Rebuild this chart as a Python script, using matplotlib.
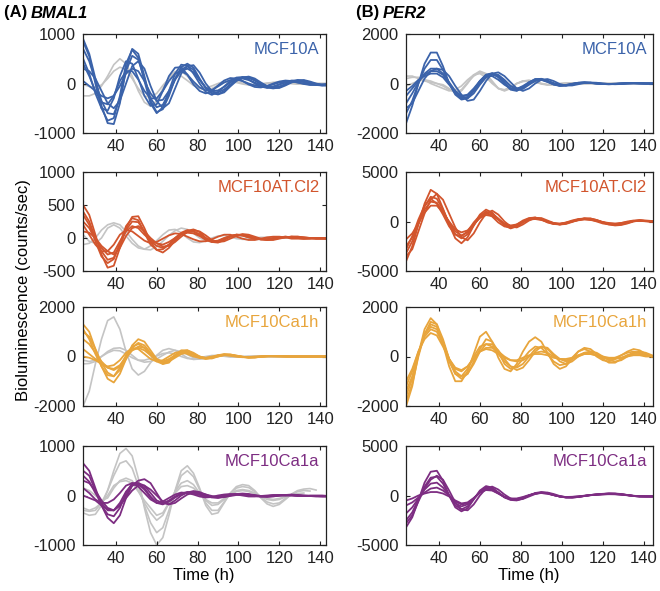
import numpy as np
import matplotlib
matplotlib.use('Agg')
import matplotlib.pyplot as plt

plt.rcParams['font.family'] = ['Liberation Sans', 'DejaVu Sans']
plt.rcParams['axes.unicode_minus'] = False

nan = np.nan

# sampling times (h)
time_h = [24, 27, 30, 33, 36, 39, 42, 45, 48, 51,
          54, 57, 60, 63, 66, 69, 72, 75, 78, 81,
          84, 87, 90, 93, 96, 99, 102, 105, 108, 111,
          114, 117, 120, 123, 126, 129, 132, 135, 138, 141, 144]

# ---------------- (A) BMAL1 ----------------
bmal1_mcf10a = [
    [900, 600, 100, -450, -800, -820, -400, 300, 700, 600,
     150, -350, -580, -520, -250, 100, 330, 400, 320, 100,
     -100, -200, -220, -150, -30, 70, 130, 130, 70, -20,
     -80, -100, -80, -20, 40, 70, 60, 20, -20, -40, -40],
    [700, 450, 50, -350, -600, -620, -300, 250, 560, 480,
     100, -300, -480, -430, -200, 80, 280, 350, 280, 80,
     -80, -170, -180, -120, -20, 60, 110, 110, 60, -10,
     -60, -80, -60, -10, 30, 60, 50, 20, -10, -30, -30],
    [500, 200, -200, -500, -550, -300, 150, 450, 400, 100,
     -250, -450, -420, -150, 150, 320, 330, 180, -20, -150,
     -200, -150, -40, 60, 110, 100, 50, -20, -70, -80,
     -50, 0, 40, 60, 50, 20, -10, -30, -30, -20, -10],
    [300, 250, 100, -150, -400, -500, -350, 0, 350, 450,
     300, -50, -350, -500, -400, -100, 200, 350, 370, 220,
     0, -150, -220, -180, -60, 50, 120, 140, 100, 20,
     -50, -90, -90, -40, 20, 60, 70, 40, 0, -30, -40],
    [50, -50, -150, -250, -300, -250, -50, 200, 300, 250,
     50, -200, -350, -330, -150, 80, 250, 300, 230, 70,
     -80, -150, -140, -70, 20, 80, 100, 70, 20, -40,
     -70, -60, -20, 20, 50, 50, 30, 0, -20, -30, -30],
    [850, 550, 0, -500, -750, -700, -250, 400, 680, 520,
     50, -400, -600, -480, -150, 200, 380, 360, 200, 0,
     -170, -230, -170, -60, 50, 120, 130, 80, 0, -60,
     -90, -70, -20, 30, 60, 60, 30, -10, -30, -40, -30],
    [400, 150, -150, -380, -420, -250, 50, 250, 250, 80,
     -150, -300, -300, -150, 50, 200, 250, 180, 40, -80,
     -140, -130, -60, 20, 70, 80, 50, 0, -40, -60,
     -50, -20, 20, 40, 40, 20, 0, -20, -20, -20, -10],
]
bmal1_mcf10a_grey = [
    [-250, -250, -200, -50, 150, 380, 500, 400, 150, -150,
     -380, -460, -350, -100, 120, 240, 250, 150, 0, -100,
     -130, -100, -40, 20, 50, 40, 10, -20, -30, -20,
     0, 20, 30, 20, 0, -10, -10, 0, 0, 0, 0],
    [-20, -60, -80, -30, 100, 250, 330, 280, 100, -100,
     -250, -280, -200, -40, 100, 170, 150, 60, -40, -90,
     -90, -50, 0, 40, 40, 20, -10, -30, -30, -10,
     10, 20, 20, 10, 0, -10, -10, 0, 0, 0, 0],
]

bmal1_mcf10at = [
    [500, 350, 50, -250, -450, -420, -150, 150, 320, 330,
     150, -60, -180, -220, -150, -40, 60, 110, 130, 90,
     0, -60, -70, -30, 20, 50, 50, 30, 0, -20,
     -30, -20, 0, 10, 20, 20, 10, 0, -10, -10, -10],
    [400, 250, 0, -200, -330, -300, -100, 120, 250, 240,
     100, -50, -120, -150, -100, -20, 50, 90, 100, 60,
     0, -40, -50, -20, 20, 40, 40, 20, 0, -20,
     -20, -10, 0, 10, 20, 10, 0, 0, -10, -10, -10],
    [250, 150, -20, -150, -250, -220, -50, 100, 180, 150,
     50, -30, -80, -100, -60, 0, 60, 80, 70, 30,
     -20, -50, -40, 0, 30, 50, 40, 10, -10, -20,
     -20, 0, 10, 20, 10, 0, -10, -10, 0, 0, -10],
    [200, 50, -100, -200, -200, -100, 50, 120, 100, 30,
     -40, -80, -60, -10, 40, 70, 60, 20, -20, -50,
     -50, -20, 20, 50, 50, 20, -10, -30, -30, -10,
     10, 20, 20, 10, -10, -10, -10, 0, 0, 0, 0],
    [100, 80, 0, -120, -200, -250, -150, 30, 150, 180,
     100, 0, -80, -130, -120, -60, 20, 90, 120, 100,
     40, -30, -60, -50, -10, 30, 60, 50, 20, -10,
     -30, -30, -10, 10, 20, 20, 10, 0, -10, -10, -10],
    [350, 200, -50, -280, -380, -320, -80, 180, 300, 270,
     80, -100, -180, -170, -100, 0, 80, 120, 100, 40,
     -30, -60, -50, -10, 30, 50, 40, 10, -10, -20,
     -20, -10, 10, 20, 10, 0, -10, -10, 0, 0, -10],
]
bmal1_mcf10at_grey = [
    [-100, -80, 0, 120, 200, 230, 200, 100, -20, -120,
     -170, -180, -130, -50, 40, 110, 150, 130, 70, 0,
     -40, -60, -40, 0, 30, 40, 30, 0, -20, -20,
     -10, 0, 10, 10, 0, 0, 0, 0, 0, 0, 0],
    [50, -50, -80, 0, 150, 200, 150, 30, -80, -150,
     -170, -120, -40, 50, 120, 130, 80, 0, -60, -70,
     -40, 0, 30, 40, 20, -10, -20, -20, 0, 10,
     10, 10, 0, 0, 0, 0, 0, 0, 0, 0, 0],
]

bmal1_ca1h = [
    [1300, 1000, 300, -400, -900, -1050, -700, -100, 450, 700,
     600, 250, -100, -300, -250, 50, 250, 250, 100, -50,
     -100, -50, 50, 100, 80, 30, -20, -50, -40, -10,
     10, 20, 20, 10, 0, 0, 0, 0, 0, 0, 0],
    [1000, 800, 300, -250, -650, -800, -550, -100, 350, 550,
     450, 150, -150, -250, -150, 50, 200, 200, 80, -30,
     -80, -50, 30, 80, 60, 20, -20, -40, -30, -10,
     10, 20, 20, 10, 0, 0, 0, 0, 0, 0, 0],
    [700, 500, 150, -200, -450, -550, -400, -50, 250, 400,
     350, 100, -100, -200, -100, 50, 150, 150, 60, -20,
     -60, -30, 30, 60, 50, 20, -10, -30, -20, 0,
     10, 10, 10, 0, 0, 0, 0, 0, 0, 0, 0],
    [300, 100, -100, -300, -400, -350, -150, 150, 350, 300,
     100, -100, -200, -150, 0, 150, 200, 100, 0, -60,
     -50, 0, 50, 60, 30, -10, -30, -20, 0, 10,
     10, 0, 0, 0, 0, 0, 0, 0, 0, 0, 0],
    [1100, 700, 100, -400, -750, -800, -450, 50, 400, 500,
     350, 50, -200, -300, -200, 0, 200, 250, 150, 0,
     -80, -80, 0, 70, 80, 40, -10, -40, -40, -10,
     10, 20, 10, 0, 0, 0, 0, 0, 0, 0, 0],
    [0, -50, -150, -300, -450, -500, -350, 0, 250, 350,
     250, 50, -150, -250, -200, -50, 100, 150, 100, 0,
     -60, -50, 0, 50, 50, 20, -10, -30, -20, 0,
     10, 10, 0, 0, 0, 0, 0, 0, 0, 0, 0],
]
bmal1_ca1h_grey = [
    [-2000, -1400, -300, 700, 1450, 1600, 1100, 200, -500, -750,
     -600, -250, 50, 250, 320, 250, 100, -50, -120, -100,
     -40, 20, 40, 30, 0, -10, -10, 0, 0, 0,
     0, 0, 0, 0, 0, 0, 0, 0, 0, 0, 0],
    [-300, -280, -200, 0, 200, 330, 350, 250, 50, -150,
     -230, -200, -100, 50, 180, 250, 200, 80, -50, -100,
     -80, -20, 30, 50, 30, 0, -20, -20, 0, 10,
     10, 0, 0, 0, 0, 0, 0, 0, 0, 0, 0],
    [-150, -200, -150, 0, 150, 250, 230, 100, -50, -150,
     -150, -80, 20, 120, 150, 100, 0, -80, -100, -50,
     0, 40, 40, 10, -20, -20, 0, 10, 10, 0,
     0, 0, 0, 0, 0, 0, 0, 0, 0, 0, 0],
]

bmal1_ca1a = [
    [650, 500, 150, -200, -450, -560, -400, -50, 200, 300,
     330, 250, 50, -150, -180, -100, 0, 60, 90, 70,
     20, -30, -50, -30, 0, 30, 40, 30, 0, -20,
     -30, -20, 0, 10, 20, 10, 0, -10, -20, -20, -20],
    [500, 400, 100, -200, -380, -420, -250, 50, 250, 250,
     150, -20, -150, -180, -120, -30, 40, 70, 60, 30,
     -10, -40, -40, -20, 10, 30, 30, 20, -10, -20,
     -20, -10, 0, 10, 10, 0, -10, -10, -10, -20, -20],
    [300, 250, 100, -100, -250, -300, -200, 0, 200, 250,
     200, 50, -100, -150, -120, -40, 30, 60, 60, 30,
     -10, -30, -30, -10, 10, 20, 20, 10, -10, -10,
     -10, 0, 0, 10, 10, 0, -10, -10, -10, -10, -10],
    [150, 50, -80, -150, -150, -80, 50, 200, 250, 180,
     50, -80, -150, -120, -50, 20, 60, 50, 20, -20,
     -40, -30, 0, 20, 30, 20, 0, -20, -20, -10,
     0, 10, 10, 0, 0, -10, -10, 0, 0, 0, -10],
    [0, -50, -100, -200, -280, -300, -200, -50, 100, 200,
     200, 120, 0, -120, -180, -150, -60, 20, 60, 50,
     20, -10, -30, -30, -10, 10, 20, 20, 10, -10,
     -10, -10, 0, 0, 10, 0, 0, -10, -10, -10, -10],
    [400, 280, 50, -150, -300, -300, -150, 80, 220, 230,
     120, -40, -140, -160, -100, -20, 40, 60, 40, 10,
     -20, -30, -20, 0, 20, 30, 20, 0, -10, -20,
     -10, 0, 10, 10, 0, 0, -10, -10, -10, -10, -10],
]
bmal1_ca1a_grey = [
    [-350, -400, -380, -200, 100, 500, 850, 950, 800, 350,
     -250, -750, -1000, -850, -400, 100, 500, 600, 450, 150,
     -200, -380, -350, -150, 50, 180, 220, 200, 100, -50,
     -170, -220, -180, -80, 30, 100, 130, 140, 110, nan, nan],
    [-300, -320, -300, -150, 100, 400, 650, 700, 550, 200,
     -200, -550, -750, -650, -300, 80, 400, 500, 380, 120,
     -150, -300, -300, -130, 40, 150, 180, 160, 80, -40,
     -130, -170, -150, -60, 20, 80, 100, 90, nan, nan, nan],
    [150, 100, 0, -100, -50, 150, 300, 350, 300, 100,
     -150, -350, -500, -400, -150, 80, 250, 300, 220, 50,
     -100, -200, -180, -80, 20, 100, 120, 100, 50, -20,
     -80, -100, -80, -30, 10, 40, 50, nan, nan, nan, nan],
    [-250, -300, -250, -150, 0, 200, 280, 300, 250, 80,
     -100, -250, -400, -350, -150, 50, 180, 200, 150, 30,
     -80, -150, -150, -60, 20, 80, 100, 80, 30, -20,
     -60, -80, -60, -20, 10, 30, nan, nan, nan, nan, nan],
]

# ---------------- (B) PER2 ----------------
per2_mcf10a = [
    [-1600, -900, 0, 800, 1250, 1250, 700, 0, -450, -650,
     -600, -300, 100, 350, 400, 250, 0, -250, -300, -150,
     50, 180, 180, 80, -40, -100, -80, -20, 30, 50,
     30, 0, -20, -30, -20, 0, 20, 20, 10, 0, 0],
    [-1200, -700, 0, 600, 950, 950, 550, 0, -400, -600,
     -550, -250, 100, 350, 420, 280, 30, -200, -280, -180,
     30, 170, 190, 100, -20, -90, -80, -30, 20, 40,
     30, 0, -20, -30, -20, 0, 10, 20, 10, 0, 0],
    [-800, -400, 50, 400, 600, 600, 400, 50, -300, -550,
     -600, -400, -50, 250, 400, 350, 150, -100, -250, -220,
     -50, 100, 170, 120, 20, -60, -80, -50, 0, 30,
     30, 10, -10, -20, -20, -10, 0, 10, 10, 0, 0],
    [-500, -200, 100, 350, 500, 500, 350, 0, -350, -500,
     -450, -200, 100, 300, 300, 150, -50, -200, -220, -100,
     50, 150, 150, 60, -40, -80, -60, -10, 30, 40,
     20, 0, -20, -20, -10, 0, 10, 10, 0, 0, 0],
    [-1000, -800, -300, 200, 500, 600, 550, 300, -100, -450,
     -700, -650, -300, 100, 400, 450, 300, 50, -200, -300,
     -200, 0, 150, 180, 100, -20, -80, -80, -30, 20,
     40, 30, 0, -20, -30, -20, 0, 10, 10, 0, 0],
    [-300, -100, 150, 300, 400, 400, 250, -50, -300, -500,
     -500, -300, 0, 250, 350, 300, 100, -100, -200, -150,
     0, 120, 150, 80, -10, -60, -60, -20, 20, 30,
     20, 0, -10, -20, -10, 0, 10, 10, 0, 0, 0],
]
per2_mcf10a_grey = [
    [300, 300, 200, 100, 50, 0, -50, -200, -350, -300,
     0, 350, 500, 400, 100, -200, -300, -200, 0, 100,
     130, 80, 0, -50, -50, -20, 0, 20, 20, 0,
     0, 0, 0, 0, 0, 0, 0, 0, 0, 0, 0],
    [200, 250, 250, 150, 0, -100, -200, -300, -250, -100,
     150, 350, 400, 250, 0, -200, -250, -150, 0, 80,
     100, 60, 0, -40, -40, -10, 10, 10, 0, 0,
     0, 0, 0, 0, 0, 0, 0, 0, 0, 0, 0],
    [-100, 0, 100, 150, 100, 0, -100, -250, -350, -250,
     50, 300, 450, 350, 50, -200, -280, -180, 0, 100,
     120, 60, -20, -60, -40, 0, 20, 20, 0, -10,
     0, 0, 0, 0, 0, 0, 0, 0, 0, 0, 0],
]

per2_mcf10at = [
    [-4000, -2500, -300, 1800, 3200, 2800, 1300, -300, -1700, -2200,
     -1600, -400, 700, 1200, 900, 200, -400, -700, -500, -50,
     300, 400, 250, -50, -250, -300, -150, 50, 200, 300,
     300, 150, -100, -300, -400, -350, -200, 0, 100, 50, 0],
    [-3200, -2000, -200, 1500, 2500, 2300, 1200, -200, -1300, -1700,
     -1300, -400, 500, 1000, 800, 300, -300, -600, -500, -100,
     250, 350, 250, 0, -200, -300, -200, 0, 200, 300,
     250, 100, -100, -250, -300, -250, -100, 50, 100, 50, 0],
    [-2500, -1600, -200, 1200, 2000, 1900, 1000, -100, -1000, -1400,
     -1100, -300, 400, 800, 700, 250, -250, -500, -400, -50,
     200, 300, 200, 0, -200, -250, -150, 0, 150, 250,
     200, 80, -80, -200, -250, -200, -80, 50, 80, 30, 0],
    [-1800, -1200, -200, 900, 1600, 1600, 900, 0, -800, -1100,
     -900, -250, 350, 650, 550, 200, -200, -400, -300, 0,
     200, 250, 150, -20, -150, -200, -120, 0, 120, 200,
     150, 60, -60, -150, -200, -150, -60, 30, 60, 20, 0],
    [-3500, -2800, -1000, 800, 2200, 2800, 2200, 800, -600, -1600,
     -1900, -1200, -100, 800, 1100, 700, 0, -500, -600, -300,
     100, 350, 350, 100, -150, -300, -250, -50, 150, 300,
     300, 150, -50, -250, -350, -300, -150, 50, 150, 100, 50],
    [-2800, -1500, 200, 1600, 2300, 1800, 700, -500, -1300, -1500,
     -1000, -100, 600, 900, 500, -100, -500, -600, -300, 100,
     350, 400, 200, -100, -250, -250, -100, 100, 250, 300,
     200, 0, -200, -300, -300, -150, 0, 100, 100, 50, 0],
]

per2_ca1h = [
    [-2000, -1200, 100, 1100, 1550, 1300, 500, -400, -1000, -1000,
     -600, 100, 800, 1000, 600, -50, -500, -600, -300, 200,
     600, 780, 600, 150, -300, -500, -400, -100, 200, 300,
     200, 0, -150, -200, -100, 50, 200, 300, 250, 100, 0],
    [-1600, -900, 100, 900, 1300, 1200, 600, -200, -700, -800,
     -500, 0, 400, 500, 400, 100, -200, -400, -450, -300,
     0, 300, 400, 300, 50, -200, -300, -200, 0, 150,
     200, 150, 0, -150, -200, -150, 0, 150, 200, 150, 50],
    [-1200, -600, 200, 800, 1100, 1000, 500, -100, -500, -600,
     -400, -50, 200, 300, 250, 100, -50, -150, -150, -50,
     50, 100, 100, 50, -50, -100, -100, -50, 50, 100,
     100, 50, -50, -100, -100, -50, 50, 100, 100, 50, 0],
    [-1800, -1100, 0, 900, 1400, 1300, 700, -100, -700, -900,
     -700, -200, 300, 700, 600, 200, -300, -500, -400, -100,
     200, 400, 350, 100, -200, -350, -300, -50, 200, 350,
     300, 100, -100, -250, -250, -100, 50, 150, 150, 50, 0],
    [-1000, -500, 200, 700, 950, 850, 400, -100, -450, -550,
     -400, -100, 200, 350, 350, 200, 0, -150, -200, -150,
     0, 150, 200, 150, 0, -100, -150, -100, 0, 100,
     100, 50, 0, -50, -50, -50, 0, 50, 50, 0, 0],
    [-1400, -800, 100, 900, 1200, 1100, 600, -100, -600, -800,
     -700, -300, 200, 500, 500, 250, -100, -400, -550, -450,
     -150, 200, 400, 350, 100, -100, -200, -100, 50, 150,
     150, 50, -50, -100, -50, 50, 150, 200, 150, 50, 0],
]

per2_ca1a = [
    [-3200, -2200, -500, 1300, 2400, 2500, 1500, 0, -1200, -1600,
     -1300, -400, 500, 950, 800, 300, -200, -450, -500, -300,
     0, 250, 350, 250, 50, -100, -200, -200, -150, -50,
     50, 100, 150, 200, 200, 150, 50, -50, -100, -100, -100],
    [-2500, -1700, -400, 900, 1800, 1900, 1200, 0, -1000, -1400,
     -1100, -350, 400, 800, 700, 300, -150, -400, -450, -300,
     0, 200, 300, 250, 50, -100, -200, -200, -150, -50,
     50, 100, 150, 200, 180, 120, 50, -50, -100, -100, -100],
    [-1800, -1200, -300, 600, 1200, 1300, 800, 0, -800, -1100,
     -900, -300, 300, 700, 600, 250, -150, -350, -400, -250,
     0, 200, 280, 220, 50, -100, -180, -180, -120, -40,
     40, 100, 130, 160, 150, 100, 40, -40, -80, -100, -100],
    [-1000, -700, -200, 300, 700, 800, 500, 0, -600, -900,
     -800, -300, 300, 600, 550, 200, -150, -350, -350, -200,
     0, 200, 250, 200, 50, -100, -150, -150, -100, -30,
     30, 80, 120, 150, 140, 100, 30, -30, -70, -90, -90],
    [-500, -300, 0, 200, 350, 350, 200, -100, -500, -800,
     -700, -250, 300, 550, 500, 200, -150, -300, -300, -150,
     50, 200, 250, 180, 30, -100, -150, -130, -80, -20,
     30, 80, 110, 130, 120, 80, 20, -30, -60, -80, -80],
    [-2800, -2000, -600, 700, 1600, 2000, 1600, 500, -700, -1400,
     -1500, -900, 0, 700, 900, 600, 100, -300, -450, -350,
     -100, 150, 300, 300, 150, -50, -180, -200, -150, -50,
     50, 120, 170, 200, 180, 120, 40, -50, -100, -100, -100],
]

cell_lines = ['MCF10A', 'MCF10AT.Cl2', 'MCF10Ca1h', 'MCF10Ca1a']
line_colors = ['#3B63AA', '#D2552D', '#E8A53C', '#7D2D82']
grey = '#C4C4C4'

bmal1_traces = [bmal1_mcf10a, bmal1_mcf10at, bmal1_ca1h, bmal1_ca1a]
bmal1_grey = [bmal1_mcf10a_grey, bmal1_mcf10at_grey, bmal1_ca1h_grey, bmal1_ca1a_grey]
bmal1_ylims = [(-1000, 1000), (-500, 1000), (-2000, 2000), (-1000, 1000)]
bmal1_yticks = [[-1000, 0, 1000], [-500, 0, 500, 1000], [-2000, 0, 2000], [-1000, 0, 1000]]

per2_traces = [per2_mcf10a, per2_mcf10at, per2_ca1h, per2_ca1a]
per2_grey = [per2_mcf10a_grey, [], [], []]
per2_ylims = [(-2000, 2000), (-5000, 5000), (-2000, 2000), (-5000, 5000)]
per2_yticks = [[-2000, 0, 2000], [-5000, 0, 5000], [-2000, 0, 2000], [-5000, 0, 5000]]

W, H = 660, 591
fig = plt.figure(figsize=(W / 100, H / 100), dpi=100)

row_tops = [34, 172, 307, 446]
row_h = 99
columns = [
    (82.5, 243, (23.7, 142.6), bmal1_traces, bmal1_grey, bmal1_ylims, bmal1_yticks),
    (405.5, 247.5, (23.7, 144.5), per2_traces, per2_grey, per2_ylims, per2_yticks),
]

t = np.array(time_h)
for x0, w, xlim, traces, greys, ylims, yticks in columns:
    for r in range(4):
        ax = fig.add_axes([x0 / W, 1 - (row_tops[r] + row_h) / H, w / W, row_h / H])
        for g in greys[r]:
            ax.plot(t, np.array(g, dtype=float), color=grey, lw=1.2, zorder=1)
        for tr in traces[r]:
            ax.plot(t, np.array(tr, dtype=float), color=line_colors[r], lw=1.3, zorder=2)
        ax.set_xlim(*xlim)
        ax.set_ylim(*ylims[r])
        ax.set_yticks(yticks[r])
        ax.set_xticks([40, 60, 80, 100, 120, 140])
        ax.tick_params(direction='in', top=True, right=True, length=3,
                       width=0.8, labelsize=12, pad=4, colors='#222222')
        ax.tick_params(axis='y', pad=5)
        for s in ax.spines.values():
            s.set_linewidth(0.9)
            s.set_color('#222222')
        ax.text(0.975, 0.84, cell_lines[r], transform=ax.transAxes,
                ha='right', va='center', fontsize=12, color=line_colors[r])
        if r == 3:
            ax.set_xlabel('Time (h)', fontsize=12, labelpad=2)

fig.text(4 / W, 1 - 13 / H, '(A) ', fontsize=12, fontweight='bold', ha='left', va='center')
fig.text(31 / W, 1 - 13 / H, 'BMAL1', fontsize=12, fontweight='bold', style='italic',
         ha='left', va='center')
fig.text(356 / W, 1 - 13 / H, '(B) ', fontsize=12, fontweight='bold', ha='left', va='center')
fig.text(383 / W, 1 - 13 / H, 'PER2', fontsize=12, fontweight='bold', style='italic',
         ha='left', va='center')
fig.text(24 / W, 1 - 290 / H, 'Bioluminescence (counts/sec)', fontsize=12,
         rotation=90, ha='center', va='center')

fig.savefig('out.png', dpi=100)
